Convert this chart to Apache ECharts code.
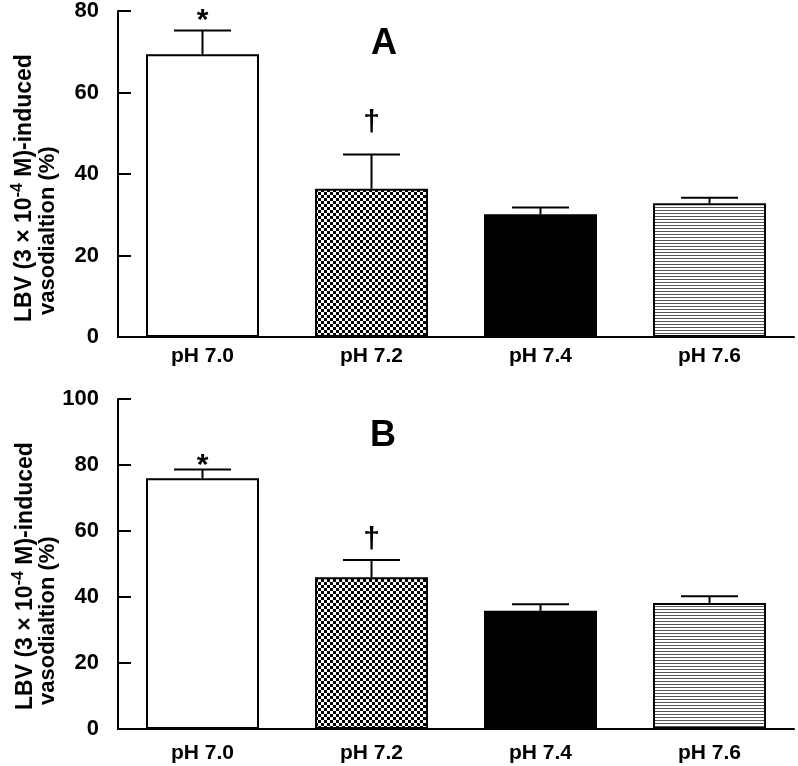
<!DOCTYPE html>
<html>
<head>
<meta charset="utf-8">
<script src="https://cdn.jsdelivr.net/npm/echarts@6/dist/echarts.min.js"></script>
<style>
html,body{margin:0;padding:0;background:#fff;}
#chart{width:798px;height:766px;}
</style>
</head>
<body>
<div id="chart"></div>
<script>
// ---- data ----
const categories = ['pH 7.0', 'pH 7.2', 'pH 7.4', 'pH 7.6'];
const meansA = [69.4, 36.4, 30.1, 32.8];
const errA = [5.8, 8.4, 1.7, 1.4];
const marksA = ['*', '†', '', ''];
const meansB = [76.0, 46.0, 35.8, 38.2];
const errB = [2.6, 5.2, 2.0, 2.0];
const marksB = ['*', '†', '', ''];
const yMaxA = 80, yMaxB = 100, yStep = 20;
const panelLabels = ['A', 'B'];
const yNameLine1 = '{n|LBV (3 × 10}{s|-4}{n| M)-induced}';
const yNameLine2 = 'vasodialtion (%)';

const FONT = '"Liberation Sans", Arial, sans-serif';

function checker() {
  const c = document.createElement('canvas');
  c.width = 6; c.height = 6;
  const g = c.getContext('2d');
  g.fillStyle = '#fff'; g.fillRect(0, 0, 6, 6);
  g.fillStyle = '#000'; g.fillRect(0, 0, 3, 3); g.fillRect(3, 3, 3, 3);
  return c;
}
function stripes() {
  const c = document.createElement('canvas');
  c.width = 4; c.height = 3;
  const g = c.getContext('2d');
  g.fillStyle = '#fff'; g.fillRect(0, 0, 4, 3);
  g.fillStyle = '#555'; g.fillRect(0, 0, 4, 1);
  return c;
}
const fills = ['#ffffff', { image: checker(), repeat: 'repeat' }, '#000000', { image: stripes(), repeat: 'repeat' }];

function barData(means) {
  return means.map((v, i) => ({
    value: v,
    itemStyle: { color: fills[i], borderColor: '#000', borderWidth: 2 }
  }));
}

function errRender(marks, starOff, daggerOff) {
  return function (params, api) {
    const i = api.value(0);
    const p0 = api.coord([i, api.value(1)]);
    const p1 = api.coord([i, api.value(2)]);
    const half = 28.5;
    const children = [
      { type: 'line', shape: { x1: p0[0], y1: p0[1], x2: p1[0], y2: p1[1] }, style: { stroke: '#000', lineWidth: 2 } },
      { type: 'line', shape: { x1: p1[0] - half, y1: p1[1], x2: p1[0] + half, y2: p1[1] }, style: { stroke: '#000', lineWidth: 2 } }
    ];
    const m = marks[params.dataIndex];
    if (m) {
      const off = m === '*' ? starOff : daggerOff;
      children.push({ type: 'text', style: { text: m, x: p1[0], y: p1[1] + off, fill: '#000', font: 'bold 30px ' + FONT, textAlign: 'center', textVerticalAlign: 'bottom' } });
    }
    return { type: 'group', children };
  };
}
function errData(means, errs) {
  return means.map((v, i) => [i, v, v + errs[i]]);
}

function xAxis(gi, margin) {
  return {
    type: 'category', gridIndex: gi, data: categories,
    axisLine: { lineStyle: { color: '#000', width: 2 } },
    axisTick: { show: false },
    axisLabel: { color: '#000', fontSize: 21, fontWeight: 'bold', fontFamily: FONT, margin: margin }
  };
}
function yAxis(gi, max, pad) {
  return {
    type: 'value', gridIndex: gi, min: 0, max: max, interval: yStep,
    axisLine: { show: true, lineStyle: { color: '#000', width: 2 } },
    axisTick: { show: true, inside: true, length: 13, lineStyle: { color: '#000', width: 2 } },
    splitLine: { show: false },
    axisLabel: { color: '#000', fontSize: 22, fontWeight: 'bold', fontFamily: FONT, margin: 19, padding: pad }
  };
}

function yName(cx1, cx2, bottom1, bottom2) {
  return [
    { type: 'text', x: cx1, y: bottom1, rotation: Math.PI / 2,
      style: { text: yNameLine1, fill: '#000', textAlign: 'left', textVerticalAlign: 'middle',
        rich: { n: { fontSize: 23, fontWeight: 'bold', fontFamily: FONT, lineHeight: 26, verticalAlign: 'bottom' },
                s: { fontSize: 16, fontWeight: 'bold', fontFamily: FONT, lineHeight: 26, verticalAlign: 'top', padding: [0, 0, 9, 0] } } } },
    { type: 'text', x: cx2, y: bottom2, rotation: Math.PI / 2,
      style: { text: yNameLine2, fill: '#000', font: 'bold 22px ' + FONT, textAlign: 'left', textVerticalAlign: 'middle' } }
  ];
}

const chart = echarts.init(document.getElementById('chart'), null, { renderer: 'canvas' });
chart.setOption({
  backgroundColor: '#fff',
  animation: false,
  grid: [
    { left: 118, right: 4, top: 5, height: 332 },
    { left: 118, right: 4, top: 399, height: 330 }
  ],
  xAxis: [xAxis(0, 9), xAxis(1, 14)],
  yAxis: [yAxis(0, yMaxA, [12, 0, 0, 0]), yAxis(1, yMaxB, 0)],
  series: [
    { type: 'bar', xAxisIndex: 0, yAxisIndex: 0, barWidth: 113, data: barData(meansA) },
    { type: 'custom', xAxisIndex: 0, yAxisIndex: 0, renderItem: errRender(marksA, 5, -17), data: errData(meansA, errA), z: 5 },
    { type: 'bar', xAxisIndex: 1, yAxisIndex: 1, barWidth: 113, data: barData(meansB) },
    { type: 'custom', xAxisIndex: 1, yAxisIndex: 1, renderItem: errRender(marksB, 11, -5), data: errData(meansB, errB), z: 5 }
  ],
  graphic: [
    ...yName(23, 48, 322, 315),
    ...yName(24, 48, 710, 705),
    { type: 'text', x: 384, y: 44, style: { text: panelLabels[0], font: 'bold 36px ' + FONT, fill: '#000', textAlign: 'center', textVerticalAlign: 'middle' } },
    { type: 'text', x: 383, y: 436, style: { text: panelLabels[1], font: 'bold 36px ' + FONT, fill: '#000', textAlign: 'center', textVerticalAlign: 'middle' } }
  ]
});
</script>
</body>
</html>
